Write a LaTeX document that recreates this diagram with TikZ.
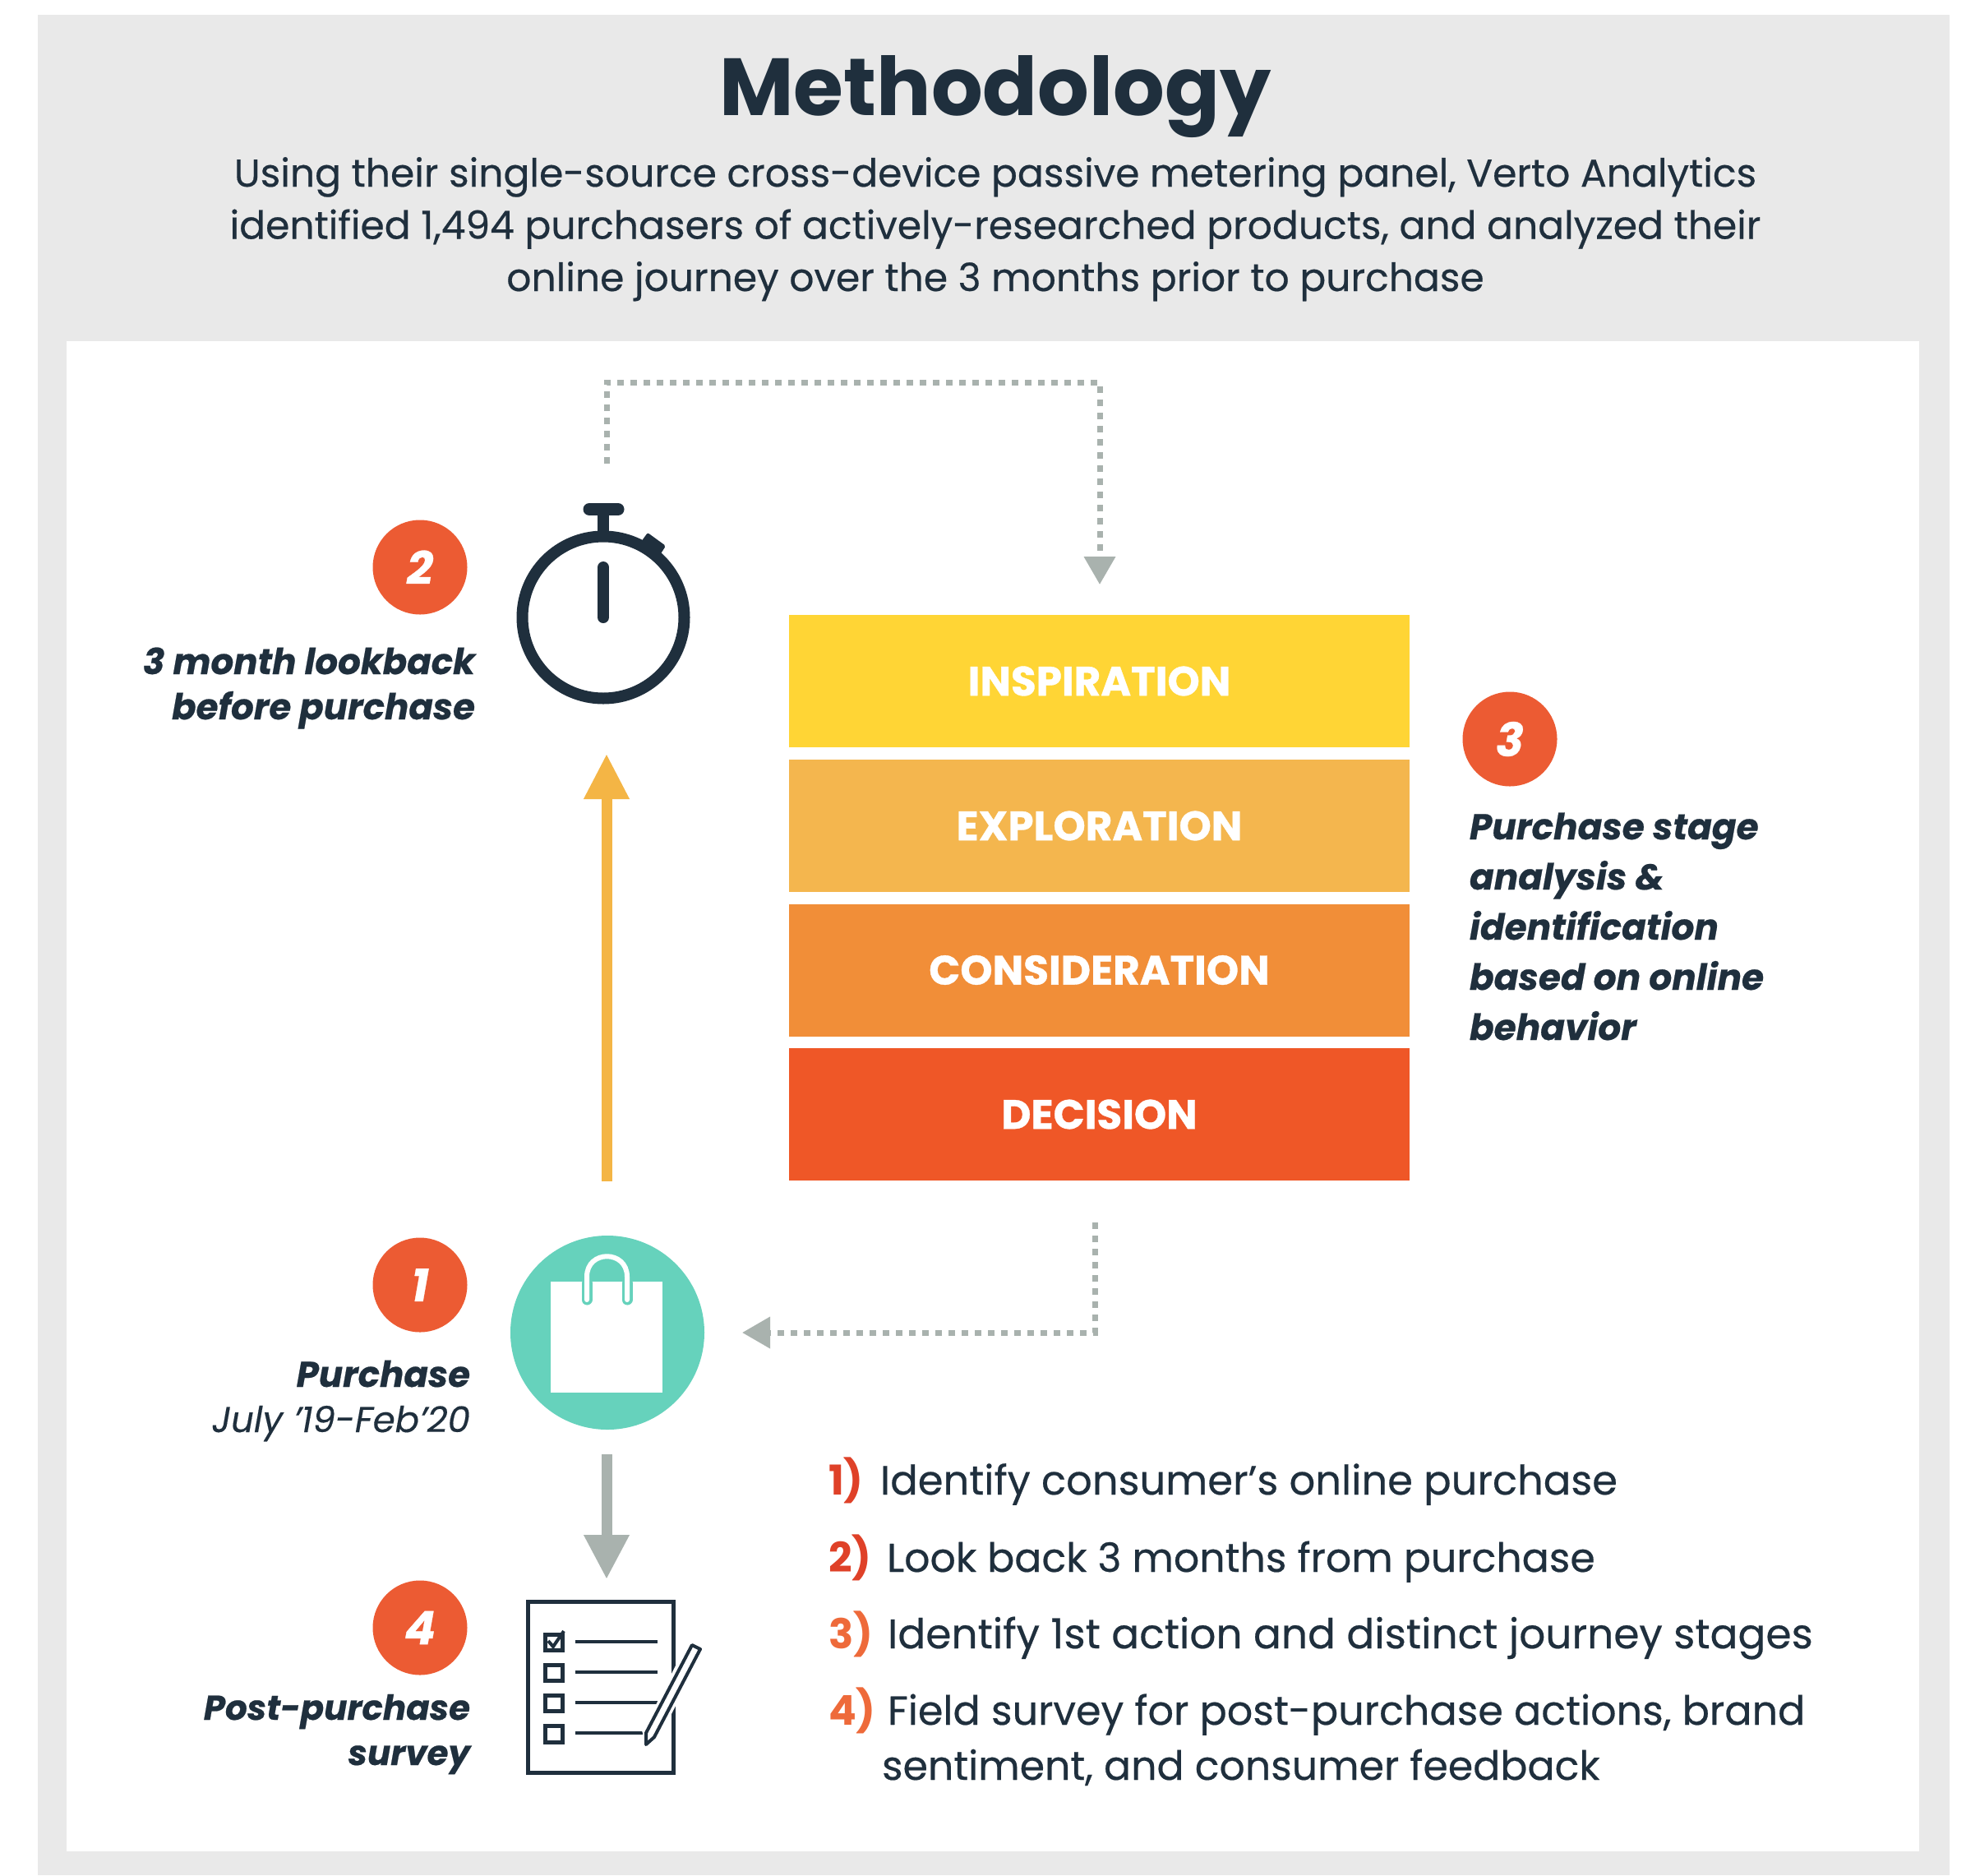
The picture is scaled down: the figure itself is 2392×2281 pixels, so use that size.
\documentclass[tikz,border=0pt]{standalone}
\usepackage{fontspec}
\usetikzlibrary{arrows.meta}
\setmainfont{Poppins}
\newfontfamily\medfont[FakeBold=0.4,ItalicFeatures={FakeBold=0.3}]{Poppins}
\newfontfamily\heavyfont[BoldFeatures={FakeBold=0.7},BoldItalicFeatures={FakeBold=0.5}]{Poppins}
\definecolor{ink}{HTML}{1F2F3D}
\definecolor{panelgray}{HTML}{E9E9E9}
\definecolor{connector}{HTML}{A9B2AE}
\definecolor{badgeorange}{HTML}{EC5B33}
\definecolor{teal}{HTML}{66D2BC}
\definecolor{amber}{HTML}{F4B545}
\definecolor{stageA}{HTML}{FFD535}
\definecolor{stageB}{HTML}{F4B64E}
\definecolor{stageC}{HTML}{F18E38}
\definecolor{stageD}{HTML}{EF5727}
\definecolor{numred}{HTML}{DF4128}
\definecolor{numorange}{HTML}{EE6A3A}
\newcommand{\fsz}[2]{\fontsize{#1pt}{#2pt}\selectfont}
\newcommand{\lowered}[1]{\raisebox{-6pt}{#1}}
\tikzset{
  x=1pt,y=-1pt,
  every node/.style={inner sep=0pt,outer sep=0pt},
  badge/.style={circle,fill=badgeorange,minimum size=115pt,text=white,font=\heavyfont\fsz{56}{56}\bfseries\itshape},
  stagebox/.style={rectangle,minimum width=755pt,minimum height=161pt,text=white,font=\heavyfont\fsz{50}{50}\bfseries},
  sidetext/.style={text=ink,font=\heavyfont\fsz{43.5}{55}\bfseries\itshape,align=right,anchor=base east},
  bodytext/.style={text=ink,anchor=base west},
  listnum/.style={font=\fsz{50}{50}\bfseries,anchor=base west},
  dotline/.style={draw=connector,line width=7pt,dash pattern=on 8pt off 8pt},
  dottip/.style={-{Triangle[length=34pt,width=37pt,color=connector]}},
}
\begin{document}
\begin{tikzpicture}
\useasboundingbox (0,0) rectangle (2392,2281);
\fill[white] (0,0) rectangle (2392,2281);
\fill[panelgray] (46,18) rectangle (2372,2281);
\fill[white] (81,415) rectangle (2335,2252);

% header
\node[text=ink,font=\fsz{98.6}{100}\bfseries,anchor=base] (title) at (1211,140) {Methodology};
\node[text=ink,font=\medfont\fsz{47.2}{63.5},align=center,anchor=base] (intro) at (1211,354)
  {Using their single-source cross-device passive metering panel, Verto Analytics\\
   identified 1,494 purchasers of actively-researched products, and analyzed their\\
   online journey over the 3 months prior to purchase};

% stages
\node[stagebox,fill=stageA] (s1) at (1337.5,828.5) {\lowered{INSPIRATION}};
\node[stagebox,fill=stageB] (s2) at (1337.5,1004.5) {\lowered{EXPLORATION}};
\node[stagebox,fill=stageC] (s3) at (1337.5,1180) {\lowered{CONSIDERATION}};
\node[stagebox,fill=stageD] (s4) at (1337.5,1355.5) {\lowered{DECISION}};

% badges
\node[badge] (b2) at (511,690) {\lowered{2}};
\node[badge] (b1) at (511,1563) {\lowered{1}};
\node[badge] (b4) at (511,1980) {\lowered{4}};
\node[badge] (b3) at (1837,899) {\lowered{3}};

% side labels
\node[sidetext] (t2) at (578,875) {3 month lookback\\before purchase};
\node[sidetext] (t1) at (572,1742) {Purchase\\\medfont\mdseries July ’19-Feb’20};
\node[sidetext,font=\heavyfont\fsz{42}{55}\bfseries\itshape] (t4) at (572,2147) {Post-purchase\\survey};
\node[sidetext,align=left,anchor=base west,font=\heavyfont\fsz{43.8}{61}\bfseries\itshape] (t3) at (1788,1265)
  {Purchase stage\\analysis \&\\identification\\based on online\\behavior};

% stopwatch
\node[circle,draw=ink,line width=14pt,minimum size=197pt] (watch) at (734,751) {};
\draw[ink,line width=14pt] (734,650) -- (734,620);
\draw[ink,line width=15pt,line cap=round] (717,619.5) -- (752,619.5);
\draw[ink,line width=14pt,line cap=round] (734,690) -- (734,751);
\fill[ink,rounded corners=2pt] (788,648) -- (810,664) -- (803,675) -- (780,659) -- cycle;

% shopping bag
\node[circle,fill=teal,minimum size=236pt] (bag) at (739,1621) {};
\fill[white] (670,1559) rectangle (806,1694);
\draw[teal,line width=13pt,line cap=round] (714,1561) -- (714,1581);
\draw[teal,line width=13pt,line cap=round] (763,1561) -- (763,1581);
\draw[white,line width=6pt,line cap=round] (714,1581) -- (714,1553) .. controls (714,1520) and (763,1520) .. (763,1553) -- (763,1581);

% survey icon
\node[rectangle,draw=ink,line width=5pt,minimum width=177pt,minimum height=208pt] (sheet) at (730.5,2052) {};
\foreach \yy/\xe in {1997/800,2034/800,2071/800,2108/782}{
  \draw[ink,line width=4pt] (700,\yy) -- (\xe,\yy);
}
\draw[ink,line width=5pt] (663,2025) rectangle (684,2044);
\draw[ink,line width=5pt] (663,2062) rectangle (684,2081);
\draw[ink,line width=5pt] (663,2099) rectangle (684,2119);
\draw[ink,line width=5pt] (663,1988) rectangle (684,2007);
\draw[ink,line width=4pt] (667,1996) -- (673,2003) -- (686,1984);
\draw[white,line width=22pt] (846,2003) -- (791,2112);
\draw[ink,line width=4pt,line join=round,fill=white]
  (842,2001) -- (852,2006) -- (796,2113) -- (786,2122) -- (786,2108) -- cycle;

% connectors
\coordinate (upStart) at (738,564);
\coordinate (upCorner) at (738,465);
\coordinate (upCornerR) at (1338,465);
\coordinate (upEnd) at (1338,711);
\draw[dotline,dottip] (upStart) -- (upCorner) -- (upCornerR) -- (upEnd);
\coordinate (dnStart) at (1332,1487);
\coordinate (dnCorner) at (1332,1621);
\coordinate (dnEnd) at (903,1621);
\draw[dotline,dottip] (dnStart) -- (dnCorner) -- (dnEnd);
\coordinate (amberStart) at (738,1437);
\coordinate (amberEnd) at (738,917);
\draw[amber,line width=13pt,-{Triangle[length=55pt,width=52pt,color=amber]}] (amberStart) -- (amberEnd);
\coordinate (grayStart) at (738,1769);
\coordinate (grayEnd) at (738,1921);
\draw[connector,line width=13pt,-{Triangle[length=54pt,width=52pt,color=connector]}] (grayStart) -- (grayEnd);

% steps
\node[listnum,text=numred] (n1) at (1008,1818) {1)};
\node[bodytext,font=\medfont\fsz{49.6}{50}] (l1) at (1071,1818) {Identify consumer’s online purchase};
\node[listnum,text=numred] (n2) at (1008,1912) {2)};
\node[bodytext,font=\medfont\fsz{49}{50}] (l2) at (1079,1912) {Look back 3 months from purchase};
\node[listnum,text=numorange] (n3) at (1008,2005) {3)};
\node[bodytext,font=\medfont\fsz{50.2}{50}] (l3) at (1080,2005) {Identify 1st action and distinct journey stages};
\node[listnum,text=numorange] (n4) at (1008,2098) {4)};
\node[bodytext,font=\medfont\fsz{49.2}{50}] (l4) at (1080,2098) {Field survey for post-purchase actions, brand};
\node[bodytext,font=\medfont\fsz{49}{50}] (l5) at (1073,2165) {sentiment, and consumer feedback};
\end{tikzpicture}
\end{document}
